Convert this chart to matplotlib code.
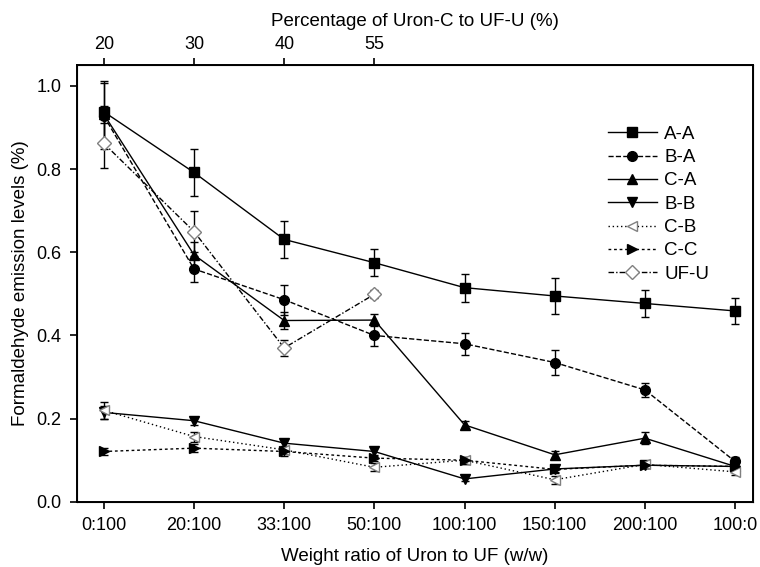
import numpy as np
import matplotlib
matplotlib.use('Agg')
import matplotlib.pyplot as plt

plt.rcParams['font.family'] = ['Liberation Sans', 'DejaVu Sans']
plt.rcParams['font.size'] = 13

# x categories
ratios = ['0:100', '20:100', '33:100', '50:100', '100:100', '150:100', '200:100', '100:0']
pct_labels = ['20', '30', '40', '55']

# series values
aa = [0.938, 0.792, 0.631, 0.575, 0.515, 0.495, 0.477, 0.459]
aa_err = [0.075, 0.057, 0.044, 0.033, 0.034, 0.043, 0.032, 0.032]
ba = [0.928, 0.560, 0.486, 0.400, 0.380, 0.335, 0.269, 0.097]
ba_err = [0.08, 0.031, 0.036, 0.025, 0.026, 0.029, 0.016, 0.01]
ca = [0.932, 0.594, 0.436, 0.437, 0.185, 0.113, 0.153, 0.085]
ca_err = [0.02, 0.03, 0.02, 0.015, 0.01, 0.008, 0.015, 0.008]
bb = [0.215, 0.195, 0.141, 0.121, 0.055, 0.079, 0.088, 0.085]
bb_err = [0.015, 0.01, 0.01, 0.01, 0.006, 0.008, 0.006, 0.006]
cb = [0.22, 0.157, 0.125, 0.083, 0.10, 0.053, 0.09, 0.072]
cb_err = [0.02, 0.012, 0.01, 0.01, 0.008, 0.01, 0.008, 0.008]
cc = [0.121, 0.129, 0.121, 0.105, 0.10, 0.078, 0.088, 0.085]
cc_err = [0.008, 0.01, 0.01, 0.008, 0.008, 0.008, 0.006, 0.006]
ufu = [0.862, 0.65, 0.37, 0.499]
ufu_err = [0.06, 0.05, 0.02, 0.01]

x = np.arange(len(ratios))

fig = plt.figure(figsize=(7.6, 5.67), dpi=100)
ax = fig.add_axes([0.101, 0.115, 0.89, 0.77])

common = dict(color='black', lw=1, capsize=3, elinewidth=1, capthick=1, ms=7)
conts = []
conts.append(ax.errorbar(x, aa, yerr=aa_err, fmt='-s', label='A-A', **common))
conts.append(ax.errorbar(x, ba, yerr=ba_err, fmt='--o', label='B-A', **common))
conts.append(ax.errorbar(x, ca, yerr=ca_err, fmt='-^', label='C-A', **common))
conts.append(ax.errorbar(x, bb, yerr=bb_err, fmt='-v', label='B-B', **common))
conts.append(ax.errorbar(x, cb, yerr=cb_err, fmt='<', ls=(0, (1, 2)), mfc='white',
                         mec='gray', label='C-B', **common))
conts.append(ax.errorbar(x, cc, yerr=cc_err, fmt='>', ls=(0, (2, 2)), label='C-C', **common))
conts.append(ax.errorbar(x[:len(ufu)], ufu, yerr=ufu_err, fmt='D', ls=(0, (4, 1.5, 1, 1.5)),
                         mfc='white', mec='gray', label='UF-U', **common))

ax.set_xlim(-0.3, 7.2)
ax.set_ylim(0, 1.05)
ax.set_xticks(x)
ax.set_xticklabels(ratios)
ax.set_yticks([0.0, 0.2, 0.4, 0.6, 0.8, 1.0])
ax.set_yticklabels(['0.0', '0.2', '0.4', '0.6', '0.8', '1.0'])
ax.tick_params(direction='out', length=5, width=1.2, pad=6, labelsize=13)
for s in ax.spines.values():
    s.set_linewidth(1.4)
ax.set_xlabel('Weight ratio of Uron to UF (w/w)', labelpad=10, fontsize=13.5)
ax.set_ylabel('Formaldehyde emission levels (%)', fontsize=13.5, labelpad=5)

ax2 = ax.twiny()
ax2.set_xlim(ax.get_xlim())
ax2.set_xticks(x[:len(pct_labels)])
ax2.set_xticklabels(pct_labels)
ax2.tick_params(direction='out', length=5, width=1.2, pad=4, labelsize=13)
ax2.set_xlabel('Percentage of Uron-C to UF-U (%)', labelpad=7, fontsize=13.5)

handles = [c[0] for c in conts]
labels = ['A-A', 'B-A', 'C-A', 'B-B', 'C-B', 'C-C', 'UF-U']
leg = ax.legend(handles, labels, loc='upper right', bbox_to_anchor=(0.96, 0.9),
                frameon=False, handlelength=2.6, handletextpad=0.4,
                labelspacing=0.33, fontsize=13.5, numpoints=1)

fig.savefig('out.png', dpi=100)
